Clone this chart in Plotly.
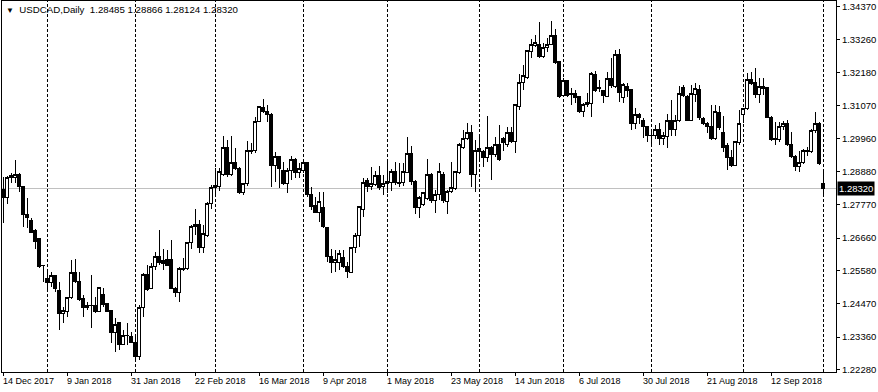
import pandas as pd
import plotly.graph_objects as go

# ---------------- data ----------------
holidays = ["2017-12-25", "2018-01-01"]
dates = [d.strftime("%Y-%m-%d") for d in pd.bdate_range("2017-12-14", "2018-10-01")
         if d.strftime("%Y-%m-%d") not in holidays]

opens = [
    1.2826, 1.2800, 1.2873, 1.2866, 1.2879, 1.2836, 1.2743, 1.2723, 1.2690, 1.2663,
    1.2573, 1.2530, 1.2517, 1.2540, 1.2490, 1.2413, 1.2420, 1.2467, 1.2550, 1.2520,
    1.2463, 1.2433, 1.2440, 1.2440, 1.2420, 1.2477, 1.2447, 1.2423, 1.2350, 1.2383,
    1.2313, 1.2340, 1.2337, 1.2317, 1.2270, 1.2433, 1.2543, 1.2497, 1.2570, 1.2606,
    1.2590, 1.2596, 1.2596, 1.2497, 1.2483, 1.2560, 1.2563, 1.2650, 1.2703, 1.2710,
    1.2636, 1.2676, 1.2780, 1.2833, 1.2836, 1.2876, 1.2969, 1.2876, 1.2916, 1.2899,
    1.2816, 1.2846, 1.2953, 1.2956, 1.3053, 1.3099, 1.3086, 1.3079, 1.2906, 1.2936,
    1.2890, 1.2846, 1.2890, 1.2926, 1.2883, 1.2890, 1.2916, 1.2810, 1.2773, 1.2750,
    1.2766, 1.2700, 1.2606, 1.2583, 1.2586, 1.2600, 1.2570, 1.2550, 1.2633, 1.2676,
    1.2760, 1.2859, 1.2836, 1.2843, 1.2873, 1.2836, 1.2846, 1.2850, 1.2886, 1.2846,
    1.2850, 1.2883, 1.2949, 1.2853, 1.2766, 1.2776, 1.2796, 1.2879, 1.2790, 1.2810,
    1.2879, 1.2786, 1.2820, 1.2830, 1.2883, 1.2966, 1.2996, 1.3019, 1.2876, 1.2963,
    1.2953, 1.2933, 1.2969, 1.2943, 1.2976, 1.2999, 1.2979, 1.3016, 1.2986, 1.3103,
    1.3183, 1.3199, 1.3286, 1.3306, 1.3312, 1.3269, 1.3302, 1.3312, 1.3339, 1.3253,
    1.3139, 1.3189, 1.3146, 1.3146, 1.3136, 1.3086, 1.3109, 1.3113, 1.3209, 1.3163,
    1.3156, 1.3136, 1.3196, 1.3169, 1.3276, 1.3133, 1.3169, 1.3159, 1.3049, 1.3076,
    1.3056, 1.3036, 1.3009, 1.3006, 1.3026, 1.2996, 1.3003, 1.3056, 1.3026, 1.3056,
    1.3166, 1.3136, 1.3059, 1.3143, 1.3159, 1.3063, 1.3049, 1.3039, 1.2999, 1.3083,
    1.3019, 1.2973, 1.2933, 1.2909, 1.2983, 1.3076, 1.3096, 1.3193, 1.3183, 1.3143,
    1.3169, 1.3166, 1.3069, 1.2999, 1.2993, 1.3036, 1.3046, 1.2976, 1.2939, 1.2903,
    1.2916, 1.2953, 1.2953, 1.3023, 1.3046, 1.28485,
]
highs = [
    1.2869, 1.2873, 1.2883, 1.2926, 1.2883, 1.2840, 1.2800, 1.2733, 1.2696, 1.2666,
    1.2576, 1.2560, 1.2553, 1.2543, 1.2520, 1.2437, 1.2470, 1.2593, 1.2596, 1.2553,
    1.2477, 1.2453, 1.2543, 1.2470, 1.2503, 1.2500, 1.2450, 1.2427, 1.2400, 1.2385,
    1.2360, 1.2383, 1.2353, 1.2337, 1.2443, 1.2550, 1.2576, 1.2583, 1.2620, 1.2693,
    1.2630, 1.2626, 1.2660, 1.2503, 1.2570, 1.2600, 1.2653, 1.2708, 1.2763, 1.2726,
    1.2710, 1.2786, 1.2843, 1.2899, 1.2899, 1.3006, 1.2993, 1.3006, 1.2966, 1.2903,
    1.2850, 1.2989, 1.2983, 1.3069, 1.3105, 1.3129, 1.3109, 1.3083, 1.2953, 1.2939,
    1.2919, 1.2899, 1.2939, 1.2933, 1.2916, 1.2919, 1.2918, 1.2836, 1.2803, 1.2820,
    1.2820, 1.2703, 1.2630, 1.2626, 1.2626, 1.2626, 1.2586, 1.2636, 1.2683, 1.2773,
    1.2866, 1.2866, 1.2903, 1.2890, 1.2906, 1.2876, 1.2919, 1.2896, 1.2919, 1.2916,
    1.2916, 1.3003, 1.2973, 1.2859, 1.2806, 1.2820, 1.2929, 1.2883, 1.2826, 1.2916,
    1.2886, 1.2826, 1.2919, 1.2888, 1.2983, 1.3026, 1.3049, 1.3043, 1.2993, 1.3003,
    1.2959, 1.3073, 1.2973, 1.3003, 1.3043, 1.3003, 1.3036, 1.3036, 1.3113, 1.3213,
    1.3243, 1.3292, 1.3329, 1.3342, 1.3386, 1.3316, 1.3332, 1.3389, 1.3362, 1.3255,
    1.3199, 1.3193, 1.3166, 1.3159, 1.3139, 1.3116, 1.3149, 1.3219, 1.3223, 1.3193,
    1.3159, 1.3219, 1.3266, 1.3292, 1.3296, 1.3183, 1.3183, 1.3163, 1.3099, 1.3083,
    1.3066, 1.3039, 1.3026, 1.3043, 1.3049, 1.3019, 1.3079, 1.3126, 1.3076, 1.3173,
    1.3176, 1.3143, 1.3176, 1.3183, 1.3176, 1.3069, 1.3051, 1.3109, 1.3109, 1.3106,
    1.3073, 1.2983, 1.2959, 1.2989, 1.3093, 1.3099, 1.3216, 1.3219, 1.3233, 1.3199,
    1.3199, 1.3169, 1.3073, 1.3053, 1.3053, 1.3056, 1.3059, 1.3019, 1.2943, 1.2956,
    1.2963, 1.2969, 1.3029, 1.3086, 1.3053, 1.28866,
]
lows = [
    1.2717, 1.2780, 1.2850, 1.2850, 1.2820, 1.2703, 1.2700, 1.2684, 1.2630, 1.2566,
    1.2520, 1.2493, 1.2503, 1.2487, 1.2360, 1.2383, 1.2403, 1.2463, 1.2517, 1.2457,
    1.2403, 1.2427, 1.2367, 1.2417, 1.2418, 1.2437, 1.2418, 1.2317, 1.2287, 1.2294,
    1.2311, 1.2310, 1.2315, 1.2254, 1.2260, 1.2403, 1.2491, 1.2495, 1.2560, 1.2576,
    1.2560, 1.2574, 1.2495, 1.2470, 1.2453, 1.2557, 1.2560, 1.2630, 1.2676, 1.2616,
    1.2616, 1.2670, 1.2763, 1.2803, 1.2823, 1.2874, 1.2869, 1.2874, 1.2893, 1.2813,
    1.2810, 1.2840, 1.2946, 1.2949, 1.3051, 1.3083, 1.3053, 1.2836, 1.2853, 1.2833,
    1.2843, 1.2816, 1.2859, 1.2866, 1.2866, 1.2883, 1.2803, 1.2760, 1.2748, 1.2720,
    1.2700, 1.2586, 1.2550, 1.2553, 1.2560, 1.2566, 1.2533, 1.2548, 1.2616, 1.2636,
    1.2736, 1.2820, 1.2826, 1.2840, 1.2826, 1.2810, 1.2816, 1.2823, 1.2843, 1.2836,
    1.2840, 1.2881, 1.2843, 1.2746, 1.2733, 1.2773, 1.2793, 1.2783, 1.2750, 1.2793,
    1.2783, 1.2746, 1.2816, 1.2826, 1.2879, 1.2964, 1.2993, 1.2836, 1.2820, 1.2926,
    1.2903, 1.2919, 1.2859, 1.2936, 1.2923, 1.2956, 1.2969, 1.2984, 1.2949, 1.3093,
    1.3159, 1.3196, 1.3266, 1.3302, 1.3266, 1.3264, 1.3286, 1.3309, 1.3247, 1.3133,
    1.3136, 1.3136, 1.3109, 1.3116, 1.3083, 1.3069, 1.3103, 1.3069, 1.3153, 1.3153,
    1.3116, 1.3134, 1.3166, 1.3166, 1.3119, 1.3116, 1.3136, 1.3026, 1.3029, 1.3046,
    1.2999, 1.2986, 1.2979, 1.2996, 1.2976, 1.2976, 1.2966, 1.3006, 1.3006, 1.3053,
    1.3136, 1.3057, 1.3057, 1.3119, 1.3059, 1.3043, 1.3016, 1.2993, 1.2993, 1.3026,
    1.2953, 1.2893, 1.2903, 1.2906, 1.2976, 1.3049, 1.3093, 1.3176, 1.3133, 1.3116,
    1.3143, 1.3067, 1.2989, 1.2976, 1.2986, 1.3026, 1.2973, 1.2933, 1.2890, 1.2886,
    1.2913, 1.2939, 1.2949, 1.3016, 1.2909, 1.28124,
]
closes = [
    1.2800, 1.2869, 1.2866, 1.2879, 1.2836, 1.2743, 1.2733, 1.2686, 1.2656, 1.2570,
    1.2575, 1.2517, 1.2540, 1.2497, 1.2413, 1.2423, 1.2467, 1.2550, 1.2520, 1.2460,
    1.2433, 1.2440, 1.2441, 1.2420, 1.2500, 1.2443, 1.2420, 1.2350, 1.2377, 1.2313,
    1.2343, 1.2343, 1.2317, 1.2270, 1.2433, 1.2543, 1.2493, 1.2570, 1.2603, 1.2583,
    1.2580, 1.2576, 1.2497, 1.2483, 1.2563, 1.2563, 1.2650, 1.2706, 1.2710, 1.2636,
    1.2680, 1.2780, 1.2833, 1.2840, 1.2886, 1.2969, 1.2876, 1.2916, 1.2896, 1.2816,
    1.2846, 1.2956, 1.2959, 1.3053, 1.3103, 1.3086, 1.3076, 1.2906, 1.2936, 1.2899,
    1.2846, 1.2890, 1.2926, 1.2883, 1.2899, 1.2916, 1.2810, 1.2770, 1.2750, 1.2786,
    1.2703, 1.2603, 1.2583, 1.2593, 1.2613, 1.2570, 1.2553, 1.2633, 1.2676, 1.2770,
    1.2850, 1.2836, 1.2846, 1.2873, 1.2833, 1.2846, 1.2853, 1.2886, 1.2850, 1.2850,
    1.2886, 1.2949, 1.2853, 1.2766, 1.2800, 1.2816, 1.2879, 1.2790, 1.2810, 1.2886,
    1.2790, 1.2820, 1.2833, 1.2886, 1.2979, 1.2996, 1.3019, 1.2876, 1.2959, 1.2953,
    1.2933, 1.2969, 1.2943, 1.2976, 1.2926, 1.2983, 1.3019, 1.2986, 1.3109, 1.3183,
    1.3206, 1.3289, 1.3309, 1.3316, 1.3269, 1.3302, 1.3312, 1.3342, 1.3249, 1.3136,
    1.3189, 1.3139, 1.3143, 1.3133, 1.3086, 1.3109, 1.3116, 1.3213, 1.3156, 1.3166,
    1.3139, 1.3196, 1.3173, 1.3276, 1.3149, 1.3176, 1.3156, 1.3049, 1.3076, 1.3066,
    1.3036, 1.3006, 1.3006, 1.3026, 1.2996, 1.3006, 1.3056, 1.3026, 1.3056, 1.3146,
    1.3139, 1.3059, 1.3146, 1.3163, 1.3066, 1.3049, 1.3036, 1.2996, 1.3086, 1.3033,
    1.2969, 1.2933, 1.2909, 1.2986, 1.3049, 1.3096, 1.3193, 1.3179, 1.3143, 1.3169,
    1.3163, 1.3069, 1.2993, 1.2993, 1.3036, 1.3046, 1.2976, 1.2936, 1.2903, 1.2916,
    1.2959, 1.2959, 1.3023, 1.3046, 1.2913, 1.28320,
]

tick_dates = ["2017-12-14", "2018-01-09", "2018-01-31", "2018-02-22", "2018-03-16",
              "2018-04-09", "2018-05-01", "2018-05-23", "2018-06-14", "2018-07-06",
              "2018-07-30", "2018-08-21", "2018-09-12"]
tick_labels = ["14 Dec 2017", "9 Jan 2018", "31 Jan 2018", "22 Feb 2018", "16 Mar 2018",
               "9 Apr 2018", "1 May 2018", "23 May 2018", "14 Jun 2018", "6 Jul 2018",
               "30 Jul 2018", "21 Aug 2018", "12 Sep 2018"]
month_starts = ["2018-01-02", "2018-02-01", "2018-03-01", "2018-04-02", "2018-05-01",
                "2018-06-01", "2018-07-02", "2018-08-01", "2018-09-03", "2018-10-01"]
price_ticks = [1.22280, 1.23360, 1.24470, 1.25580, 1.26660, 1.27770,
               1.28880, 1.29960, 1.31070, 1.32180, 1.33260, 1.34370]
last_price = 1.28320
symbol = "USDCAD,Daily"

# ---------------- figure ----------------
FONT = "Liberation Sans, Arial, sans-serif"

fig = go.Figure(go.Candlestick(
    x=dates, open=opens, high=highs, low=lows, close=closes,
    increasing=dict(line=dict(color="black", width=1), fillcolor="white"),
    decreasing=dict(line=dict(color="black", width=1), fillcolor="black"),
    whiskerwidth=0, hoverinfo="skip",
))

shapes = []
for d in month_starts:
    shapes.append(dict(type="line", xref="x", yref="paper", x0=d, x1=d, y0=0, y1=1,
                       line=dict(color="black", width=1, dash="3px,2px"), layer="below"))
shapes.append(dict(type="line", xref="paper", yref="y", x0=0, x1=1, y0=last_price, y1=last_price,
                   line=dict(color="#C0C0C0", width=1), layer="below"))

annotations = []
for d, t in zip(tick_dates, tick_labels):
    annotations.append(dict(x=d, xref="x", y=0, yref="paper", text=t, showarrow=False,
                            xanchor="left", yanchor="top", yshift=-2, xshift=-2,
                            font=dict(family=FONT, size=9, color="black")))
annotations.append(dict(x=0, xref="paper", y=1, yref="paper", xanchor="left", yanchor="top",
                        xshift=2, yshift=-1, showarrow=False,
                        text="<span style='font-size:8px'>\u25bc</span>\u00a0\u00a0" + symbol
                             + "\u00a0\u00a0" + " ".join(f"{v:.5f}" for v in
                                                        [opens[-1], highs[-1], lows[-1], closes[-1]]),
                        font=dict(family=FONT, size=9.7, color="black")))
annotations.append(dict(x=1, xref="paper", y=last_price, yref="y", xanchor="left", yanchor="middle",
                        xshift=1, showarrow=False, text=f"{last_price:.5f}", bgcolor="black",
                        borderpad=1, font=dict(family=FONT, size=9.5, color="white")))

fig.update_layout(
    width=878, height=392,
    margin=dict(l=2, r=42, t=1, b=20),
    paper_bgcolor="white", plot_bgcolor="white",
    showlegend=False, boxgap=0.25,
    font=dict(family=FONT, size=9.5, color="black"),
    shapes=shapes, annotations=annotations,
    xaxis=dict(type="category", categoryorder="array", categoryarray=dates,
               range=[-0.25, 208.25], rangeslider=dict(visible=False),
               showline=True, linecolor="black", linewidth=1, mirror=True,
               ticks="outside", ticklen=3, tickcolor="black",
               tickvals=tick_dates, showticklabels=False,
               showgrid=False, zeroline=False, fixedrange=True),
    yaxis=dict(side="right", range=[1.22198, 1.34553],
               tickvals=price_ticks, ticktext=[f"{v:.5f}" for v in price_ticks],
               ticks="outside", ticklen=3, tickcolor="black",
               showline=True, linecolor="black", linewidth=1, mirror=True,
               showgrid=False, zeroline=False, fixedrange=True,
               tickfont=dict(family=FONT, size=9.5, color="black")),
)

post_js = """
var gd = document.getElementsByClassName('plotly-graph-div')[0];
function crisp(){
  var els = gd.querySelectorAll('.trace.boxes path, .shapelayer path');
  for (var i = 0; i < els.length; i++) { els[i].style.shapeRendering = 'crispEdges'; }
}
crisp();
gd.on('plotly_afterplot', crisp);
"""

fig.write_html("out.html", post_script=post_js)
